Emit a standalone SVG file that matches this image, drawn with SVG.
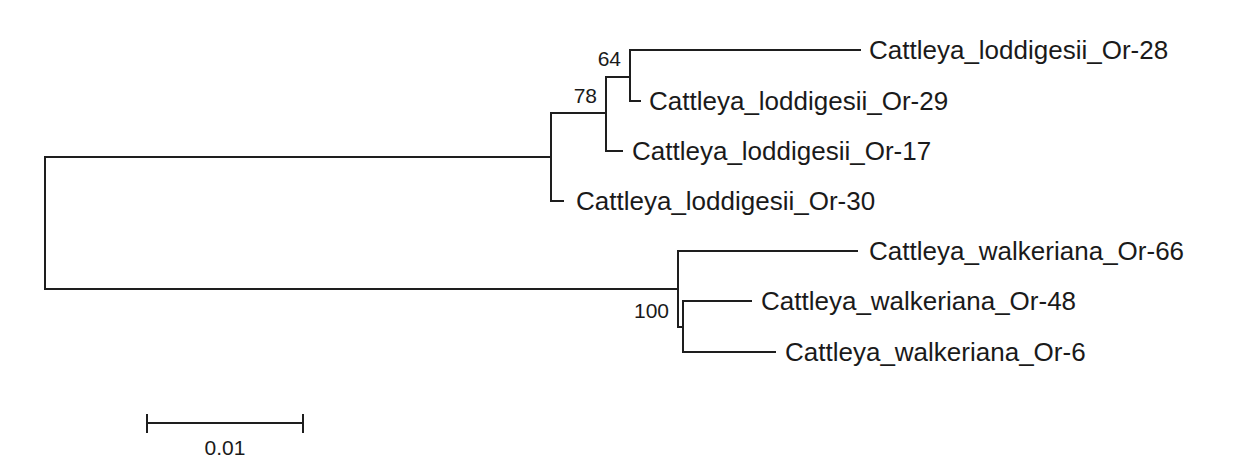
<svg xmlns="http://www.w3.org/2000/svg" width="1246" height="466" viewBox="0 0 1246 466">
<style>
.br{fill:none;stroke:#1e1e1e;stroke-width:2;stroke-linecap:square}
.lab{font-family:"Liberation Sans",Arial,sans-serif;font-size:26px;fill:#1a1a1a}
.bs{font-family:"Liberation Sans",Arial,sans-serif;font-size:21px;fill:#1a1a1a;text-anchor:end}
</style>
<rect width="1246" height="466" fill="#fff"/>
<g id="connectors">
<path class="br" d="M551,157 H45 V289 H678"/>
<path class="br" d="M606,113 H551 V201 H563"/>
<path class="br" d="M630,77 H606 V151 H622"/>
<path class="br" d="M860,50 H630 V101 H640"/>
<path class="br" d="M857,251 H678 V327 H683"/>
<path class="br" d="M751,301 H683 V352 H775"/>
</g>
<g id="leaf-or28"><text class="lab" x="869" y="59">Cattleya_loddigesii_Or-28</text></g>
<g id="leaf-or29"><text class="lab" x="649" y="110">Cattleya_loddigesii_Or-29</text></g>
<g id="leaf-or17"><text class="lab" x="632" y="160">Cattleya_loddigesii_Or-17</text></g>
<g id="leaf-or30"><text class="lab" x="576" y="210">Cattleya_loddigesii_Or-30</text></g>
<g id="leaf-or66"><text class="lab" x="869" y="260">Cattleya_walkeriana_Or-66</text></g>
<g id="leaf-or48"><text class="lab" x="761" y="310">Cattleya_walkeriana_Or-48</text></g>
<g id="leaf-or6"><text class="lab" x="785" y="361">Cattleya_walkeriana_Or-6</text></g>
<g id="support-64"><text class="bs" x="621" y="66">64</text></g>
<g id="support-78"><text class="bs" x="597" y="103">78</text></g>
<g id="support-100"><text class="bs" x="669" y="318">100</text></g>
<g id="scale-bar">
<path class="br" d="M147,423 H303 M147,415 V432 M303,415 V432"/>
<text x="225" y="455" style="font-family:'Liberation Sans',Arial,sans-serif;font-size:21px;fill:#1a1a1a;text-anchor:middle">0.01</text>
</g>
</svg>
